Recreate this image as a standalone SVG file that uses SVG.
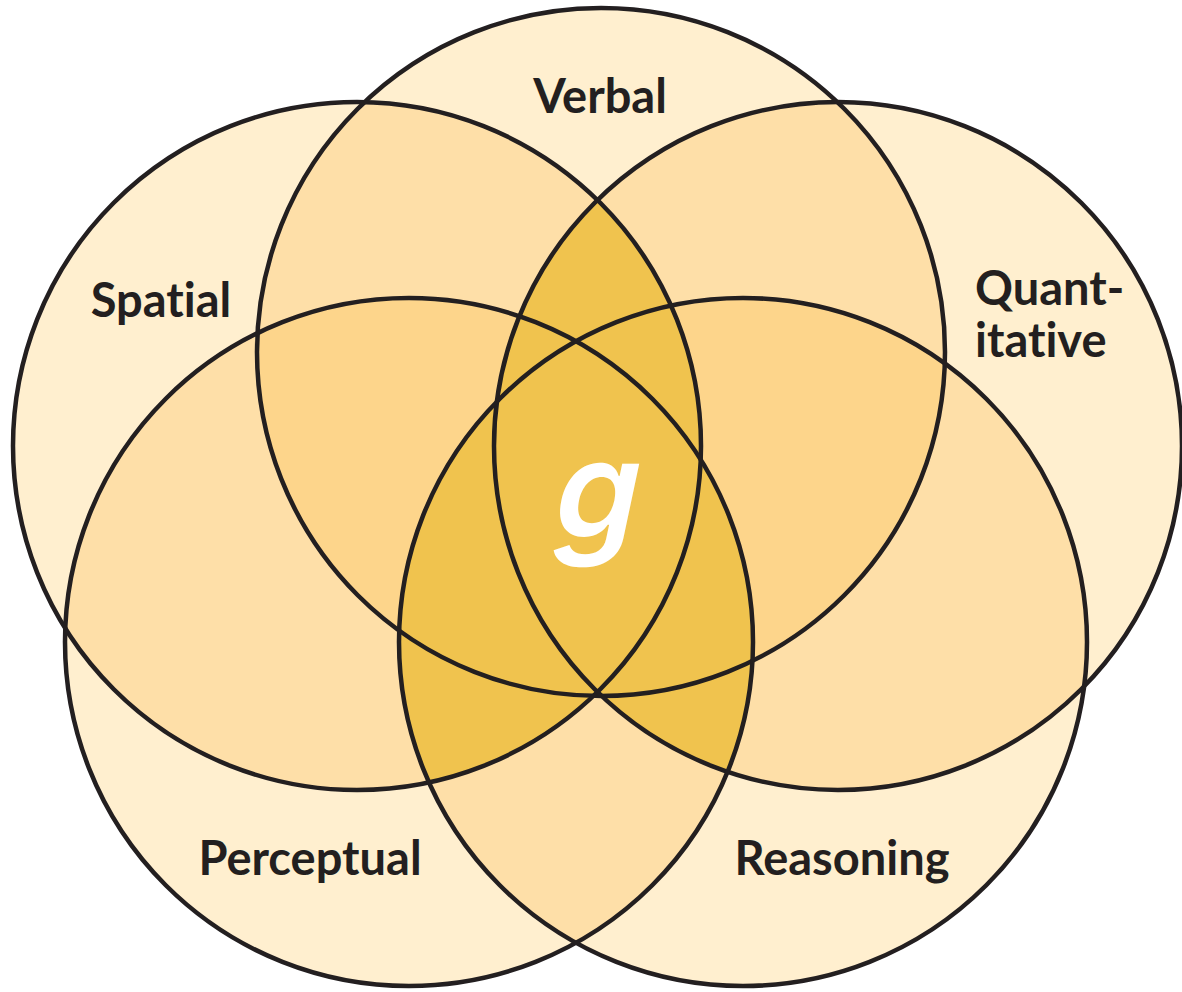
<svg xmlns="http://www.w3.org/2000/svg" width="1182" height="992" viewBox="0 0 1182 992">
<style>
.c1{fill:#FFEFCF}
.c2{fill:#FEDFA8}
.c3{fill:#FDD58B}
.c4{fill:#F0C34E}
.ln{fill:none;stroke:#231F20;stroke-width:4.5}
.lbl{font-family:Lato,"Open Sans","Liberation Sans",sans-serif;font-weight:700;font-size:47px;fill:#231F20;font-variant-ligatures:none}
.g{font-family:Inter,"Liberation Sans",sans-serif;font-weight:600;font-size:136px;fill:#FFFFFF}
</style>
<defs>
<circle id="V" cx="601" cy="352" r="344"/>
<circle id="S" cx="357" cy="446" r="344"/>
<circle id="Q" cx="838" cy="446" r="344"/>
<circle id="P" cx="409" cy="642" r="344"/>
<circle id="R" cx="743" cy="642" r="344"/>
<clipPath id="cV"><use href="#V"/></clipPath>
<clipPath id="cS"><use href="#S"/></clipPath>
<clipPath id="cQ"><use href="#Q"/></clipPath>
<clipPath id="cP"><use href="#P"/></clipPath>
<clipPath id="cR"><use href="#R"/></clipPath>
</defs>
<rect width="1182" height="992" fill="#FFFFFF"/>
<g id="fills">
<g class="c1">
<use href="#V"/><use href="#S"/><use href="#Q"/><use href="#P"/><use href="#R"/>
</g>
<g class="c2">
<use href="#V" clip-path="url(#cS)"/>
<use href="#V" clip-path="url(#cQ)"/>
<use href="#V" clip-path="url(#cP)"/>
<use href="#V" clip-path="url(#cR)"/>
<use href="#S" clip-path="url(#cQ)"/>
<use href="#S" clip-path="url(#cP)"/>
<use href="#S" clip-path="url(#cR)"/>
<use href="#Q" clip-path="url(#cP)"/>
<use href="#Q" clip-path="url(#cR)"/>
<use href="#P" clip-path="url(#cR)"/>
</g>
<g class="c3">
<g clip-path="url(#cS)"><use href="#P" clip-path="url(#cV)"/></g>
<g clip-path="url(#cQ)"><use href="#R" clip-path="url(#cV)"/></g>
</g>
<g class="c4">
<use href="#S" clip-path="url(#cQ)"/>
<g clip-path="url(#cS)"><use href="#P" clip-path="url(#cR)"/></g>
<g clip-path="url(#cQ)"><use href="#P" clip-path="url(#cR)"/></g>
</g>
</g>
<g id="node-verbal"><use href="#V" class="ln"/><text class="lbl" x="600" y="113" text-anchor="middle">Verbal</text></g>
<g id="node-spatial"><use href="#S" class="ln"/><text class="lbl" x="161" y="317" text-anchor="middle">Spatial</text></g>
<g id="node-quantitative"><use href="#Q" class="ln"/><text class="lbl" x="975" y="305">Quant-</text><text class="lbl" x="975" y="357">itative</text></g>
<g id="node-perceptual"><use href="#P" class="ln"/><text class="lbl" x="310" y="875" text-anchor="middle">Perceptual</text></g>
<g id="node-reasoning"><use href="#R" class="ln"/><text class="lbl" x="842" y="875" text-anchor="middle">Reasoning</text></g>
<g id="node-g"><text class="g" transform="translate(590,538) skewX(-12)" x="0" y="0" text-anchor="middle">g</text></g>
<g id="connectors"/>
</svg>
